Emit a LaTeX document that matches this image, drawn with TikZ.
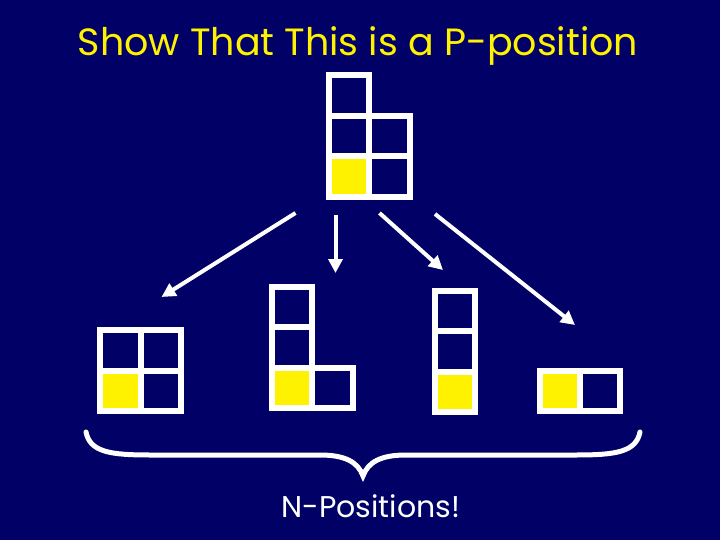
\documentclass[tikz,border=0pt]{standalone}
\usepackage{fontspec}
\setmainfont{Poppins}
\usetikzlibrary{arrows.meta}
\definecolor{navy}{RGB}{0,0,102}
\begin{document}
\begin{tikzpicture}[x=1pt, y=-1pt,
        cell/.style={draw=white, line width=6pt, minimum size=40.5pt, inner sep=0pt},
        goal/.style={cell, fill=yellow},
        move/.style={-{Triangle[length=14pt, width=14pt]}, white, line width=4pt},
        brace/.style={white, line width=5pt, line cap=round}
    ]
        % Hintergrund
        \fill[navy] (0,0) rectangle (720,540);
        \useasboundingbox (0,0) rectangle (720,540);

        % Titel
        \node[anchor=base, text=yellow, font=\fontsize{38}{40}\selectfont] (title) at (358,56) {Show That This is a P-position};

        % Ausgangsstellung
        \node[cell] (s1) at (349,95.5) {};
        \node[cell] (s2) at (349,136) {};
        \node[cell] (s3) at (389.5,136) {};
        \node[goal] (s4) at (349,176.5) {};
        \node[cell] (s5) at (389.5,176.5) {};

        % Zuege
        \coordinate (m1a) at (295.5,213);
        \coordinate (m1b) at (161.5,297);
        \coordinate (m2a) at (335.5,215);
        \coordinate (m2b) at (335.5,273);
        \coordinate (m3a) at (379.5,213);
        \coordinate (m3b) at (443,270);
        \coordinate (m4a) at (435,214);
        \coordinate (m4b) at (575,325);
        \draw[move] (m1a) -- (m1b);
        \draw[move] (m2a) -- (m2b);
        \draw[move] (m3a) -- (m3b);
        \draw[move] (m4a) -- (m4b);

        % Folgestellungen
        \node[cell] (a1) at (120.5,350.5) {};
        \node[cell] (a2) at (161,350.5) {};
        \node[goal] (a3) at (120.5,391) {};
        \node[cell] (a4) at (161,391) {};

        \node[cell] (b1) at (292,307) {};
        \node[cell] (b2) at (292,347.5) {};
        \node[goal] (b3) at (292,388) {};
        \node[cell] (b4) at (332.5,388) {};

        \node[cell] (c1) at (455,311) {};
        \node[cell] (c2) at (455,351.5) {};
        \node[goal] (c3) at (455,392) {};

        \node[goal] (d1) at (560,391) {};
        \node[cell] (d2) at (600,391) {};

        % Klammer
        \draw[brace] (86,432) .. controls (90,452) and (110,455) .. (150,455) -- (320,455)
            .. controls (345,455) and (358,462) .. (363,476)
            .. controls (368,462) and (381,455) .. (406,455) -- (576,455)
            .. controls (616,455) and (636,452) .. (640,432);

        \node[anchor=base, text=white, font=\fontsize{30}{32}\selectfont] (npos) at (371,517) {N-Positions!};
    \end{tikzpicture}
\end{document}
